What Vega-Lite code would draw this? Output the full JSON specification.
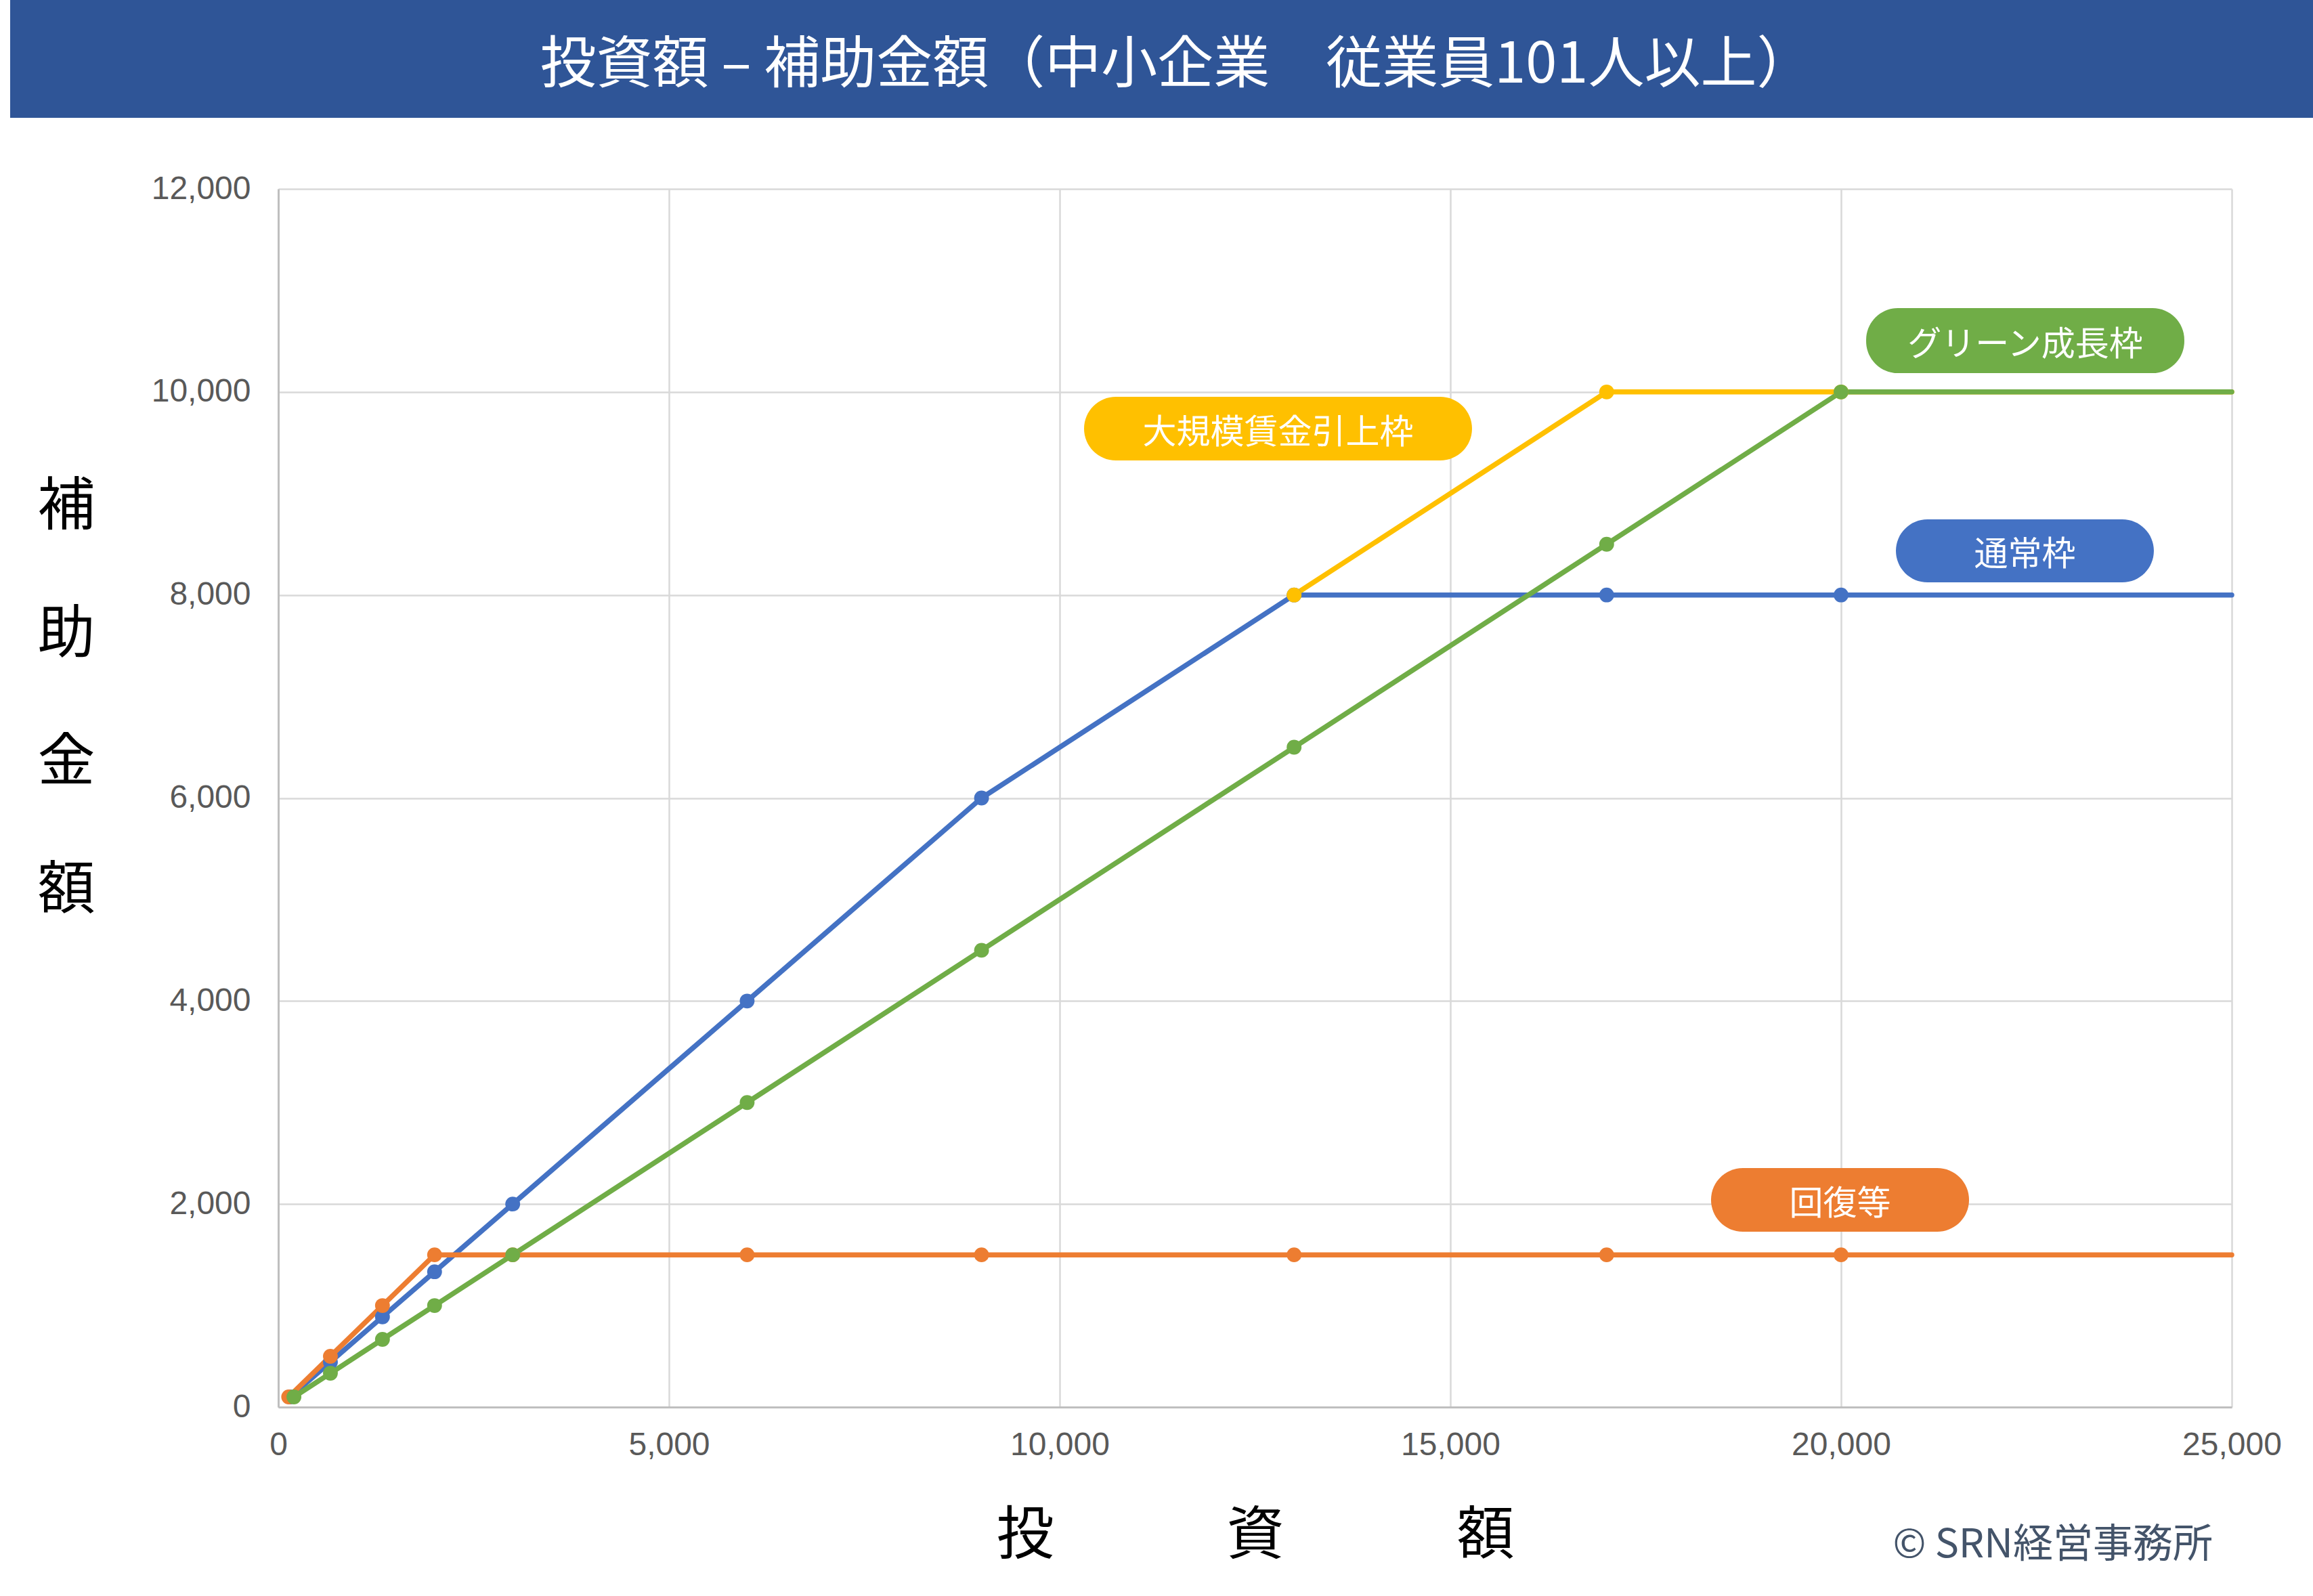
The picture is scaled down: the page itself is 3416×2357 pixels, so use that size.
{
  "$schema": "https://vega.github.io/schema/vega-lite/v6.json",
  "background": "white",
  "padding": {"left": 15, "top": 0, "right": 0, "bottom": 40},
  "spacing": 81,
  "datasets": {
    "banner": [{"title": "投資額 – 補助金額（中小企業　従業員101人以上）"}],
    "ytitle": [{"title": "補\n助\n金\n額"}],
    "series": [
      {"series": "通常枠", "investment": 150, "subsidy": 100},
      {"series": "通常枠", "investment": 667, "subsidy": 444},
      {"series": "通常枠", "investment": 1333, "subsidy": 889},
      {"series": "通常枠", "investment": 2000, "subsidy": 1333},
      {"series": "通常枠", "investment": 3000, "subsidy": 2000},
      {"series": "通常枠", "investment": 6000, "subsidy": 4000},
      {"series": "通常枠", "investment": 9000, "subsidy": 6000},
      {"series": "通常枠", "investment": 13000, "subsidy": 8000},
      {"series": "通常枠", "investment": 17000, "subsidy": 8000},
      {"series": "通常枠", "investment": 20000, "subsidy": 8000},
      {"series": "通常枠", "investment": 25000, "subsidy": 8000},
      {"series": "回復等", "investment": 133, "subsidy": 100},
      {"series": "回復等", "investment": 667, "subsidy": 500},
      {"series": "回復等", "investment": 1333, "subsidy": 1000},
      {"series": "回復等", "investment": 2000, "subsidy": 1500},
      {"series": "回復等", "investment": 3000, "subsidy": 1500},
      {"series": "回復等", "investment": 6000, "subsidy": 1500},
      {"series": "回復等", "investment": 9000, "subsidy": 1500},
      {"series": "回復等", "investment": 13000, "subsidy": 1500},
      {"series": "回復等", "investment": 17000, "subsidy": 1500},
      {"series": "回復等", "investment": 20000, "subsidy": 1500},
      {"series": "回復等", "investment": 25000, "subsidy": 1500},
      {"series": "大規模賃金引上枠", "investment": 13000, "subsidy": 8000},
      {"series": "大規模賃金引上枠", "investment": 17000, "subsidy": 10000},
      {"series": "大規模賃金引上枠", "investment": 20000, "subsidy": 10000},
      {"series": "大規模賃金引上枠", "investment": 25000, "subsidy": 10000},
      {"series": "グリーン成長枠", "investment": 200, "subsidy": 100},
      {"series": "グリーン成長枠", "investment": 667, "subsidy": 333},
      {"series": "グリーン成長枠", "investment": 1333, "subsidy": 667},
      {"series": "グリーン成長枠", "investment": 2000, "subsidy": 1000},
      {"series": "グリーン成長枠", "investment": 3000, "subsidy": 1500},
      {"series": "グリーン成長枠", "investment": 6000, "subsidy": 3000},
      {"series": "グリーン成長枠", "investment": 9000, "subsidy": 4500},
      {"series": "グリーン成長枠", "investment": 13000, "subsidy": 6500},
      {"series": "グリーン成長枠", "investment": 17000, "subsidy": 8500},
      {"series": "グリーン成長枠", "investment": 20000, "subsidy": 10000},
      {"series": "グリーン成長枠", "investment": 25000, "subsidy": 10000}
    ],
    "labels": [
      {"series": "大規模賃金引上枠", "x_start": 10312, "x_end": 15277, "y_low": 9325, "y_high": 9952, "x_mid": 12795, "y_mid": 9639},
      {"series": "グリーン成長枠", "x_start": 20321, "x_end": 24393, "y_low": 10185, "y_high": 10826, "x_mid": 22357, "y_mid": 10506},
      {"series": "通常枠", "x_start": 20702, "x_end": 24003, "y_low": 8124, "y_high": 8745, "x_mid": 22353, "y_mid": 8435},
      {"series": "回復等", "x_start": 18336, "x_end": 21638, "y_low": 1728, "y_high": 2355, "x_mid": 19987, "y_mid": 2041}
    ]
  },
  "vconcat": [
    {
      "width": 3401,
      "height": 174,
      "view": {"fill": "#2F5597", "stroke": null},
      "data": {"name": "banner"},
      "mark": {"type": "text", "color": "white", "fontSize": 83, "font": "Noto Sans CJK JP", "baseline": "middle", "align": "center", "dy": 10, "dx": 22},
      "encoding": {"text": {"field": "title"}}
    },
    {
      "spacing": 42,
      "hconcat": [
        {
          "width": 166,
          "height": 1799,
          "view": {"stroke": null},
          "data": {"name": "ytitle"},
          "mark": {"type": "text", "color": "#000000", "fontSize": 85, "font": "Noto Sans CJK JP", "baseline": "middle", "align": "center", "lineBreak": "\n", "lineHeight": 189, "dy": -430},
          "encoding": {"text": {"field": "title"}}
        },
        {
          "width": 2885,
          "height": 1799,
          "view": {"stroke": null},
          "title": {"text": "© SRN経営事務所", "orient": "bottom", "anchor": "end", "frame": "group", "offset": -58, "dx": -28, "fontSize": 59, "font": "Noto Sans CJK JP", "fontWeight": "normal", "color": "#44546A"},
          "layer": [
            {
              "data": {"name": "series"},
              "mark": {"type": "line", "strokeWidth": 7.5, "strokeJoin": "round", "strokeCap": "round"},
              "encoding": {
                "x": {
                  "field": "investment", "type": "quantitative",
                  "scale": {"domain": [0, 25000], "nice": false, "zero": true},
                  "axis": {
                    "values": [0, 5000, 10000, 15000, 20000, 25000],
                    "format": ",d",
                    "title": "投　　　資　　　額",
                    "titleFont": "Noto Sans CJK JP",
                    "titleFontSize": 85,
                    "titleFontWeight": "normal",
                    "titleColor": "#000000",
                    "titleY": 190,
                    "titleBaseline": "middle",
                    "labelFont": "Liberation Sans",
                    "labelFontSize": 48,
                    "labelColor": "#595959",
                    "labelPadding": 32,
                    "labelFlush": false,
                    "ticks": false,
                    "domainColor": "#BFBFBF",
                    "domainWidth": 3,
                    "gridColor": "#D9D9D9",
                    "gridWidth": 2.5
                  }
                },
                "y": {
                  "field": "subsidy", "type": "quantitative",
                  "scale": {"domain": [0, 12000], "nice": false},
                  "axis": {
                    "values": [0, 2000, 4000, 6000, 8000, 10000, 12000],
                    "format": ",d",
                    "title": null,
                    "labelFont": "Liberation Sans",
                    "labelFontSize": 48,
                    "labelColor": "#595959",
                    "labelPadding": 41,
                    "ticks": false,
                    "domainColor": "#BFBFBF",
                    "domainWidth": 3,
                    "gridColor": "#D9D9D9",
                    "gridWidth": 2.5
                  }
                },
                "color": {
                  "field": "series", "type": "nominal",
                  "scale": {"domain": ["通常枠", "回復等", "大規模賃金引上枠", "グリーン成長枠"], "range": ["#4472C4", "#ED7D31", "#FFC000", "#70AD47"]},
                  "legend": null
                }
              }
            },
            {
              "data": {"name": "series"},
              "transform": [{"filter": "datum.investment < 25000"}],
              "mark": {"type": "circle", "size": 480, "opacity": 1},
              "encoding": {
                "x": {"field": "investment", "type": "quantitative"},
                "y": {"field": "subsidy", "type": "quantitative"},
                "color": {"field": "series", "type": "nominal", "legend": null}
              }
            },
            {
              "data": {"name": "labels"},
              "mark": {"type": "rect", "cornerRadius": 47},
              "encoding": {
                "x": {"field": "x_start", "type": "quantitative"},
                "x2": {"field": "x_end"},
                "y": {"field": "y_low", "type": "quantitative"},
                "y2": {"field": "y_high"},
                "color": {"field": "series", "type": "nominal", "legend": null}
              }
            },
            {
              "data": {"name": "labels"},
              "mark": {"type": "text", "color": "white", "fontSize": 50, "font": "Noto Sans CJK JP", "baseline": "middle", "align": "center", "dy": 7},
              "encoding": {
                "x": {"field": "x_mid", "type": "quantitative"},
                "y": {"field": "y_mid", "type": "quantitative"},
                "text": {"field": "series"}
              }
            }
          ]
        }
      ]
    }
  ]
}
